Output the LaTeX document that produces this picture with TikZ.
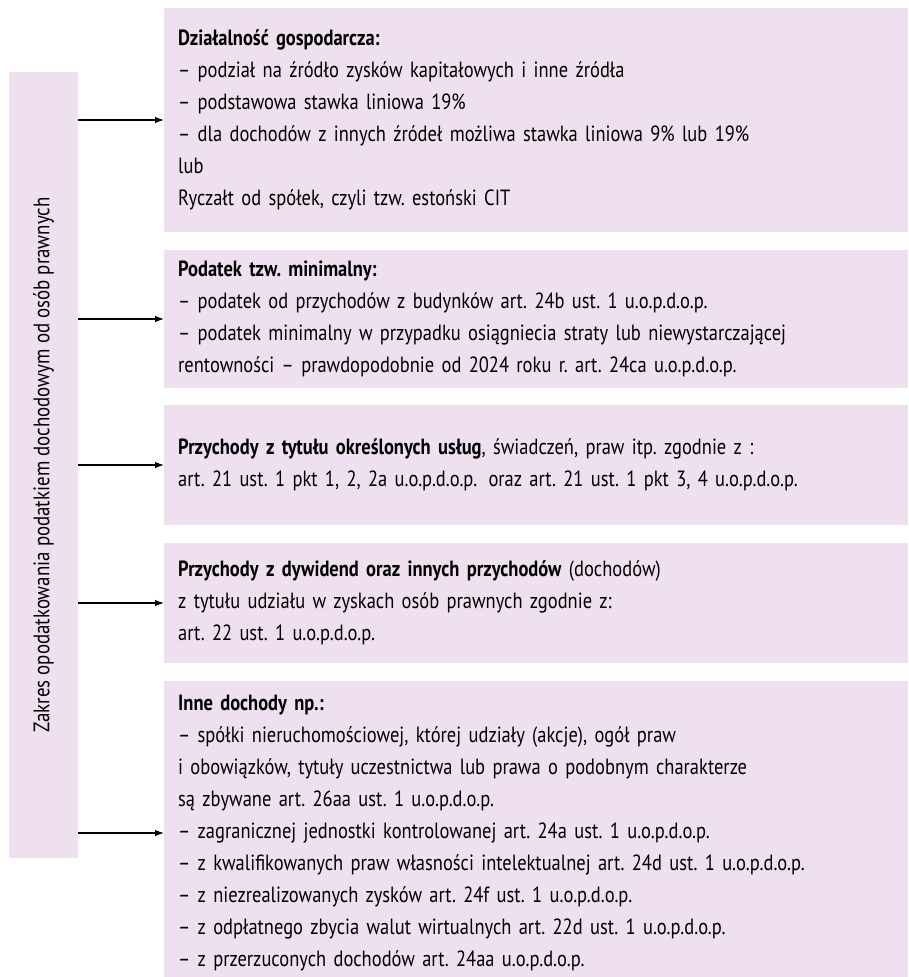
\documentclass[tikz,border=0pt]{standalone}
\usepackage{fontspec}
\setmainfont[FakeStretch=0.84]{PT Sans}
\usetikzlibrary{arrows.meta}
\definecolor{fiolet}{RGB}{238,224,238}
\frenchspacing

\begin{document}
\begin{tikzpicture}[x=1pt,y=-1pt,
	pole/.style={fill=fiolet,anchor=west,text width=716pt,inner xsep=14pt,inner ysep=0pt,align=left,font=\fontsize{22}{32}\selectfont},
	strz/.style={-{Latex[length=9pt,width=6.5pt]},line width=1.1pt}]
	\useasboundingbox (0,0) rectangle (908,977); %rozmiar
	\node[fill=fiolet,rotate=90,minimum width=786pt,minimum height=69pt,inner sep=0pt,font=\fontsize{22.5}{24}\selectfont] (zakres) at (43.5,465) {Zakres opodatkowania podatkiem dochodowym od osób prawnych}; %lewy pas
	\node[pole,minimum height=224pt] (dzial) at (164,120) {\textbf{Działalność gospodarcza:}\\
		– podział na źródło zysków kapitałowych i inne źródła\\
		– podstawowa stawka liniowa 19\%\\
		– dla dochodów z innych źródeł możliwa stawka liniowa 9\% lub 19\%\\
		lub\\
		Ryczałt od spółek, czyli tzw. estoński CIT};
	\node[pole,minimum height=138pt] (minim) at (164,319) {\textbf{Podatek tzw. minimalny:}\\
		– podatek od przychodów z budynków art. 24b ust. 1 u.o.p.d.o.p.\\
		– podatek minimalny w przypadku osiągniecia straty lub niewystarczającej\\
		rentowności – prawdopodobnie od 2024 roku r. art. 24ca u.o.p.d.o.p.};
	\node[pole,minimum height=120pt] (uslugi) at (164,465) {\textbf{Przychody z tytułu określonych usług}, świadczeń, praw itp. zgodnie z :\\
		art. 21 ust. 1 pkt 1, 2, 2a u.o.p.d.o.p.\hspace{4pt} oraz art. 21 ust. 1 pkt 3, 4 u.o.p.d.o.p.};
	\node[pole,minimum height=120pt] (dywid) at (164,603) {\textbf{Przychody z dywidend oraz innych przychodów} (dochodów)\\
		z tytułu udziału w zyskach osób prawnych zgodnie z:\\
		art. 22 ust. 1 u.o.p.d.o.p.};
	\node[pole,minimum height=304pt] (inne) at (164,833) {\textbf{Inne dochody np.:}\\
		– spółki nieruchomościowej, której udziały (akcje), ogół praw\\
		i obowiązków, tytuły uczestnictwa lub prawa o podobnym charakterze\\
		są zbywane art. 26aa ust. 1 u.o.p.d.o.p.\\
		– zagranicznej jednostki kontrolowanej art. 24a ust. 1 u.o.p.d.o.p.\\
		– z kwalifikowanych praw własności intelektualnej art. 24d ust. 1 u.o.p.d.o.p.\\
		– z niezrealizowanych zysków art. 24f ust. 1 u.o.p.d.o.p.\\
		– z odpłatnego zbycia walut wirtualnych art. 22d ust. 1 u.o.p.d.o.p.\\
		– z przerzuconych dochodów art. 24aa u.o.p.d.o.p.};
	\foreach \b in {dzial,minim,uslugi,dywid,inne}{ %strzalki
		\draw[strz] (zakres.south |- \b.west) -- (\b.west);
	}
\end{tikzpicture}
\end{document}
